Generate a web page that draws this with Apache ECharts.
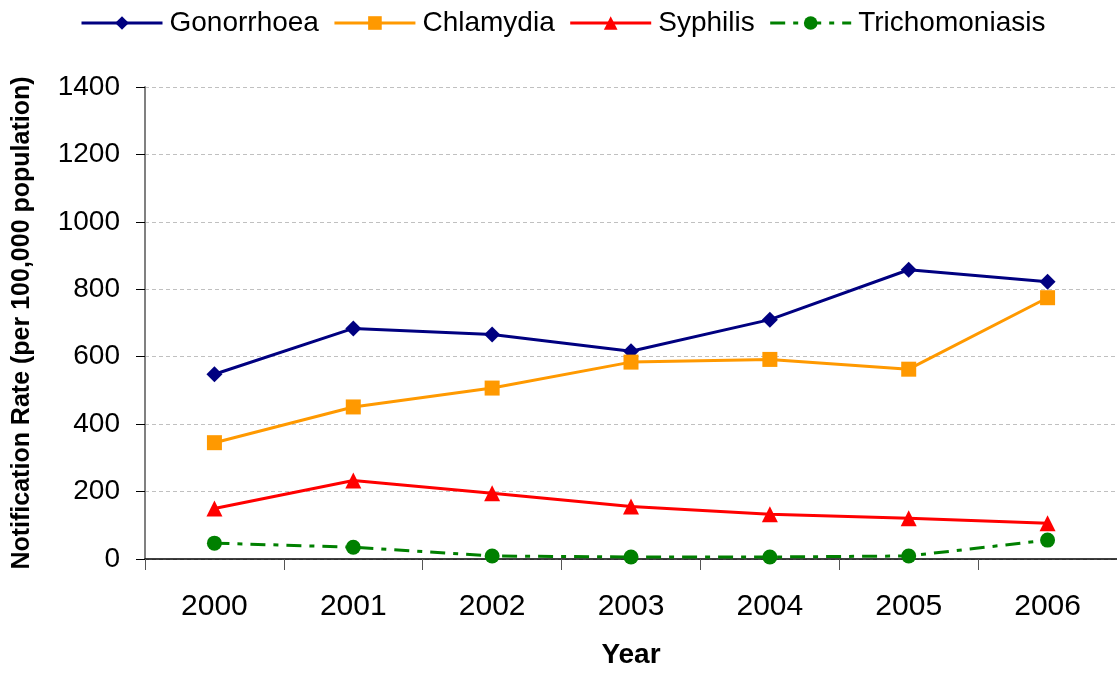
<!DOCTYPE html>
<html>
<head>
<meta charset="utf-8">
<script src="https://cdn.jsdelivr.net/npm/echarts@6/dist/echarts.min.js"></script>
<style>
  html, body { margin: 0; padding: 0; background: #fff; }
  #chart { width: 1117px; height: 674px; }
</style>
</head>
<body>
<div id="chart"></div>
<script>
// 数据
var years = ['2000', '2001', '2002', '2003', '2004', '2005', '2006'];
var gonorrhoea = [548, 684, 666, 616, 710, 858, 822];
var chlamydia = [345, 451, 507, 584, 592, 563, 775];
var syphilis = [150, 233, 195, 156, 133, 121, 106];
var trichomoniasis = [47, 35, 9, 6, 6, 9, 56];

var chart = echarts.init(document.getElementById('chart'));

var font = 'Liberation Sans, Arial, sans-serif';

// 图表配置
var option = {
    animation: false,
    textStyle: { fontFamily: font },
    legend: {
        top: 4,
        left: 75,
        itemWidth: 81,
        itemHeight: 17,
        itemGap: 14,
        lineStyle: { width: 3 },
        textStyle: { fontSize: 28, color: '#000', fontFamily: font, padding: [0, 0, 0, 2] },
        data: ['Gonorrhoea', 'Chlamydia', 'Syphilis', 'Trichomoniasis']
    },
    grid: {
        left: 145,
        top: 87,
        width: 978,
        height: 476
    },
    xAxis: {
        type: 'category',
        data: years,
        name: 'Year',
        nameLocation: 'middle',
        nameGap: 82,
        nameTextStyle: { fontSize: 28, fontWeight: 'bold', color: '#000' },
        axisLine: { lineStyle: { color: '#000', width: 1.5 } },
        axisTick: { show: true, length: 11, lineStyle: { color: '#555' } },
        axisLabel: { fontSize: 30, color: '#000', margin: 33 }
    },
    yAxis: {
        type: 'value',
        min: 0,
        max: 1400,
        interval: 200,
        name: 'Notification Rate (per 100,000 population)',
        nameLocation: 'middle',
        nameGap: 110,
        nameTextStyle: { fontSize: 25, fontWeight: 'bold', color: '#000' },
        axisLine: { show: true, lineStyle: { color: '#808080', width: 2 } },
        axisTick: { show: true, length: 9, lineStyle: { color: '#000' } },
        axisLabel: {
            fontSize: 28,
            color: '#000',
            margin: 25,
            formatter: function (v) { return String(v); }
        },
        splitLine: { lineStyle: { color: '#c0c0c0', type: [4, 3] } }
    },
    series: [{
        name: 'Gonorrhoea',
        type: 'line',
        data: gonorrhoea,
        symbol: 'diamond',
        symbolSize: 16,
        itemStyle: { color: '#000080' },
        lineStyle: { color: '#000080', width: 3 }
    }, {
        name: 'Chlamydia',
        type: 'line',
        data: chlamydia,
        symbol: 'rect',
        symbolSize: 15,
        itemStyle: { color: '#ff9900' },
        lineStyle: { color: '#ff9900', width: 3 }
    }, {
        name: 'Syphilis',
        type: 'line',
        data: syphilis,
        symbol: 'triangle',
        symbolSize: 16,
        itemStyle: { color: '#ff0000' },
        lineStyle: { color: '#ff0000', width: 3 }
    }, {
        name: 'Trichomoniasis',
        type: 'line',
        data: trichomoniasis,
        symbol: 'circle',
        symbolSize: 15,
        itemStyle: { color: '#008000' },
        lineStyle: { color: '#008000', width: 3, type: [15, 8, 5, 8] }
    }]
};

chart.setOption(option);
</script>
</body>
</html>
